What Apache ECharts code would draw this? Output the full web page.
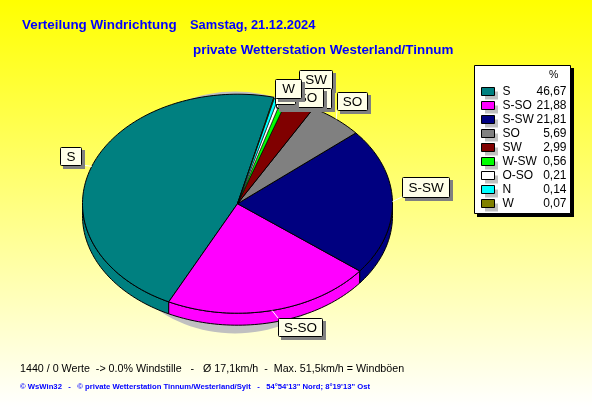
<!DOCTYPE html>
<html><head><meta charset="utf-8">
<style>html,body{margin:0;padding:0;background:#fff}#c{width:592px;height:407px}</style>
<script src="https://cdn.jsdelivr.net/npm/echarts@6/dist/echarts.min.js"></script>
</head><body><div id="c"></div>
<script>
const categories = ['S','S-SO','S-SW','SO','SW','W-SW','O-SO','N','W'];
const values = [46.67,21.88,21.81,5.69,2.99,0.56,0.21,0.14,0.07];
const colors = ['#008080','#ff00ff','#000080','#808080','#800000','#00ff00','#ffffff','#00ffff','#808000'];
const labelBoxes = {
  'S':[60,147,21,18],'S-SO':[278,318,44,18],'S-SW':[402,177,47,20],'SO':[337,92,30,18],
  'SW':[299,70,33,19],'W-SW':[276,88,55,20],'O-SO':[276,88,47,19],'N':[275,85,20,19],'W':[275,79,26,19]
};
const labelFont = '13.5px "Liberation Sans"';
const legendFont = '10.5px "Liberation Sans"';
const pie = {cx:237.5,cy:203.7,rx:155,ry:109.5,depth:12,start:76.4,minAngle:1.4,minValue:0.1};
const total = values.reduce((a,b)=>a+b,0);
const spans = values.map(v=>{ const s=v/total*360; return v>=pie.minValue?Math.max(s,pie.minAngle):s; });
const spanSum = spans.reduce((a,b)=>a+b,0);
const angles = []; { let a = pie.start; spans.forEach(s=>{ const b=a+s/spanSum*360; angles.push([a,b]); a=b; }); }
const pt = (t,dy=0)=>{ const r=t*Math.PI/180; return [pie.cx+pie.rx*Math.cos(r), pie.cy-pie.ry*Math.sin(r)+dy]; };
const arc = (a,b,dy=0)=>{ const n=Math.max(2,Math.ceil(Math.abs(b-a)/1.5)), out=[]; for(let i=0;i<=n;i++) out.push(pt(a+(b-a)*i/n,dy)); return out; };

function sliceItem(i){
  const [a,b]=angles[i], fill=colors[i], children=[];
  const lineWidth = (b-a)<3 ? 0.6 : 1;
  [[180,360],[540,720]].forEach(([f,t])=>{
    const s=Math.max(a,f), e=Math.min(b,t);
    if(e>s) children.push({type:'polygon',shape:{points:arc(s,e).concat(arc(e,s,pie.depth))},
      style:{fill,stroke:'#000',lineWidth:1}});
  });
  children.push({type:'polygon',shape:{points:[[pie.cx,pie.cy]].concat(arc(a,b))},
    style:{fill,stroke:'#000',lineWidth},z2:10});
  return {type:'group',children};
}
function labelItem(params){
  const i=params.dataIndex, name=categories[i], [x,y,w,h]=labelBoxes[name];
  const p=pt((angles[i][0]+angles[i][1])/2);
  const ex=Math.min(x+w,Math.max(x,p[0])), ey=Math.min(y+h,Math.max(y,p[1]));
  const b=i*5;
  return {type:'group',children:[
    {type:'line',shape:{x1:p[0],y1:p[1],x2:ex,y2:ey},style:{stroke:'#fff',lineWidth:1},z2:b+1},
    {type:'rect',shape:{x:x+3,y:y+3,width:w+1,height:h+1},style:{fill:'#808080'},z2:b+2},
    {type:'rect',shape:{x:x+.5,y:y+.5,width:w,height:h,r:1},style:{fill:'#ffffe8',stroke:'#000',lineWidth:1},z2:b+3},
    {type:'text',style:{x:x+w/2+.5,y:y+h/2+1,text:name,font:labelFont,fill:'#000',align:'center',verticalAlign:'middle'},z2:b+4}
  ]};
}
const chart = echarts.init(document.getElementById('c'),null,{renderer:'canvas'});
const series = categories.map((name,i)=>({
  type:'custom',name,coordinateSystem:'none',silent:true,z:3,animation:false,
  itemStyle:{color:colors[i]},
  data:[values[i]],
  renderItem:()=>sliceItem(i)
}));
series.push({type:'custom',name:'labels',coordinateSystem:'none',silent:true,z:6,animation:false,
  data:values.slice(),renderItem:labelItem});
const T=(x,y,text,font,fill)=>({type:'text',silent:true,z:1,style:{x,y,text,font,fill,verticalAlign:'top'}});
const legendTop=87.5, rowH=14;
const iconShadows = categories.map((c,i)=>({type:'rect',silent:true,z:1,
  shape:{x:485,y:legendTop+4+i*rowH,width:13,height:8},style:{fill:'#c0c0c0'}}));
chart.setOption({
  animation:false,
  backgroundColor:new echarts.graphic.LinearGradient(0,0,0,1,[{offset:0,color:'#ffff00'},{offset:1,color:'#ffffff'}]),
  tooltip:{show:false},
  legend:{
    data:categories,orient:'vertical',left:481,top:legendTop-2,itemWidth:13,itemHeight:8,itemGap:2,padding:0,icon:'rect',z:8,selectedMode:false,
    itemStyle:{borderColor:'#000',borderWidth:1},
    formatter:n=>`{n|${n}}{v|${values[categories.indexOf(n)].toFixed(2).replace('.',',')}}`,
    textStyle:{rich:{
      n:{font:legendFont,color:'#000',width:38,padding:[0,0,0,3],align:'left',lineHeight:12},
      v:{font:legendFont,color:'#000',width:26,align:'right',lineHeight:12}
    }}
  },
  graphic:{elements:[
    {type:'ellipse',silent:true,z:1,shape:{cx:235,cy:212.5,rx:130,ry:121},style:{fill:'#c0c0c0'}},
    {type:'rect',silent:true,z:1,shape:{x:477,y:68,width:97,height:149},style:{fill:'#000'}},
    {type:'rect',silent:true,z:1,shape:{x:474.5,y:65.5,width:96,height:148},style:{fill:'#fff',stroke:'#000',lineWidth:1}},
    T(549,70,'%',legendFont,'#000'),
    T(22,19,'Verteilung Windrichtung','bold 13.4px "Liberation Sans"','#0000ff'),
    T(190,19,'Samstag, 21.12.2024','bold 12.9px "Liberation Sans"','#0000ff'),
    T(193,43.5,'private Wetterstation Westerland/Tinnum','bold 13.4px "Liberation Sans"','#0000ff'),
    T(20,364,'1440 / 0 Werte  -> 0.0% Windstille   -   Ø 17,1km/h  -  Max. 51,5km/h = Windböen','10.7px "Liberation Sans"','#000'),
    T(20,382.5,'© WsWin32   -   © private Wetterstation Tinnum/Westerland/Sylt   -   54°54\'13" Nord; 8°19\'13" Ost','bold 7.7px "Liberation Sans"','#0000ff')
  ].concat(iconShadows)},
  series
});
</script></body></html>
